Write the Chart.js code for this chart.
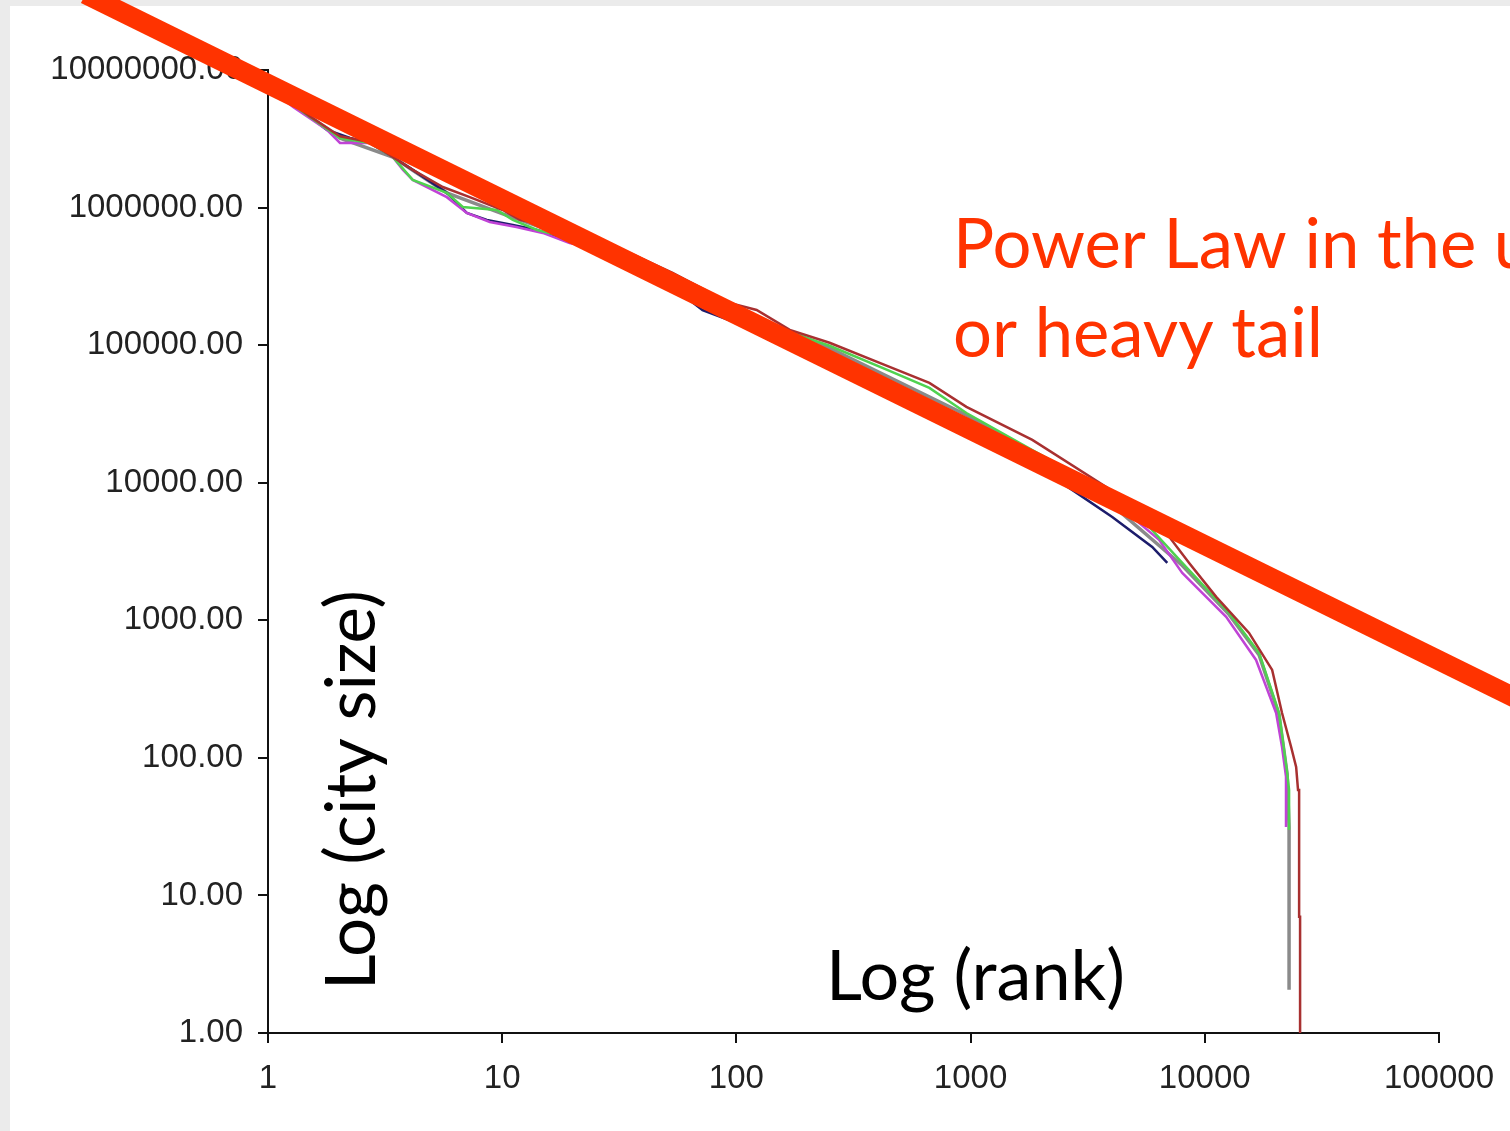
<!DOCTYPE html>
<html lang="en">
<head>
  <meta charset="UTF-8" />
  <title>City size vs rank (log-log)</title>
  <script src="https://cdn.jsdelivr.net/npm/chart.js"></script>
  <style>
    body {
      margin: 0;
      background: #ebebeb;
    }
    #chart {
      display: block;
    }
  </style>
</head>
<body>
  <canvas id="chart" width="1510" height="1131"></canvas>

  <script>
    // tick values
    const xTicks = [1, 10, 100, 1000, 10000, 100000];
    const yTicks = [1, 10, 100, 1000, 10000, 100000, 1000000, 10000000];

    // fitted power law line (two ends)
    const powerRank = [0.166, 282000];
    const powerSize = [35600000, 214];

    // series: rank -> city size
    const brownRank = [1, 1.51, 2.03, 2.72, 3.41, 4.15, 5.58, 7.27, 10.06, 11.9, 14.9, 19.4, 26.1, 35, 53.4, 93.5, 122, 169, 250, 451, 667, 960, 1835, 3796, 6843, 8577, 11190, 15460, 19400, 21380, 23380, 24560, 25020, 25290, 25290, 25530, 25530];
    const brownSize = [7.8e6, 4.6e6, 3.3e6, 3.0e6, 2.33e6, 1.88e6, 1.41e6, 1.19e6, 9.6e5, 8.13e5, 7.5e5, 6.3e5, 5.3e5, 4.68e5, 3.35e5, 2.03e5, 1.8e5, 1.29e5, 1.04e5, 6.95e4, 5.31e4, 3.56e4, 2.05e4, 9.3e3, 4.32e3, 2.61e3, 1.48e3, 809, 436, 212, 120, 86, 58.5, 58.5, 7.0, 7.0, 1];

    const greenRank = [1, 1.51, 2.03, 2.72, 3.41, 4.15, 5.8, 6.79, 9.49, 11.1, 14.1, 19.4, 26.1, 38.6, 53.4, 93.5, 169, 250, 451, 667, 960, 1835, 3119, 5790, 8015, 12710, 17060, 20760, 22480, 22910, 22910];
    const greenSize = [7.6e6, 4.55e6, 3.2e6, 2.95e6, 2.33e6, 1.59e6, 1.28e6, 1.01e6, 9.6e5, 8.13e5, 6.87e5, 6.0e5, 5.1e5, 4.0e5, 3.2e5, 1.95e5, 1.24e5, 9.9e4, 6.5e4, 4.89e4, 3.21e4, 1.73e4, 1.05e4, 4.77e3, 2.61e3, 1.13e3, 579, 212, 78, 58.5, 30];

    const magentaRank = [1, 1.28, 1.79, 2.03, 2.72, 3.41, 3.77, 4.15, 5.8, 7.06, 8.85, 11.5, 14.9, 19.4, 26.1, 38.6, 63.1, 100, 139, 250, 451, 758, 1327, 2716, 4900, 6383, 8015, 12340, 16560, 20170, 21380, 22230, 22230];
    const magentaSize = [7.5e6, 5.38e6, 3.66e6, 2.95e6, 2.95e6, 2.33e6, 1.88e6, 1.59e6, 1.19e6, 9.15e5, 7.86e5, 7.23e5, 6.54e5, 5.53e5, 5.0e5, 3.95e5, 2.13e5, 1.45e5, 1.12e5, 7.06e4, 4.5e4, 3.56e4, 2.15e4, 1.0e4, 5.64e3, 3.84e3, 2.21e3, 1.06e3, 515, 212, 120, 73, 31.5];

    const navyRank = [1, 1.51, 1.79, 2.24, 2.72, 3.41, 4.15, 5.8, 7.06, 8.6, 11.1, 14.1, 19.4, 26.1, 38.6, 63.1, 71.7, 100, 139, 250, 451, 758, 1327, 2716, 4027, 5966, 6918];
    const navySize = [7.6e6, 4.55e6, 3.66e6, 3.21e6, 2.95e6, 2.33e6, 1.88e6, 1.28e6, 9.15e5, 8.13e5, 7.48e5, 6.87e5, 5.8e5, 5.0e5, 3.95e5, 2.13e5, 1.8e5, 1.45e5, 1.09e5, 7.2e4, 4.5e4, 3.3e4, 2.0e4, 8.87e3, 5.64e3, 3.41e3, 2.61e3];

    const grayRank = [1, 2.03, 3.41, 5.8, 10.06, 26.1, 93.5, 250, 960, 3119, 8015, 12710, 17060, 20760, 22480, 22910, 22910];
    const graySize = [7.6e6, 3.2e6, 2.33e6, 1.28e6, 9.0e5, 5.1e5, 1.9e5, 9.5e4, 3.1e4, 1.0e4, 2.5e3, 1.1e3, 560, 205, 76, 31.5, 2.06];

    const toPoints = (xs, ys) => xs.map((x, i) => ({ x, y: ys[i] }));

    const thin = (data, color, width) => ({
      data,
      borderColor: color,
      borderWidth: width,
      pointRadius: 0,
      fill: false,
      tension: 0
    });

    // gray panel edge + white plot page
    const pagePlugin = {
      id: 'page',
      beforeDraw(chart) {
        const { ctx, width, height } = chart;
        ctx.save();
        ctx.fillStyle = '#ebebeb';
        ctx.fillRect(0, 0, width, height);
        ctx.fillStyle = '#ffffff';
        ctx.fillRect(10, 6, width - 10, height - 6);
        ctx.restore();
      }
    };

    // fit a font size so a text spans a wanted width
    const fitSize = (ctx, text, family, target) => {
      ctx.font = `100px ${family}`;
      return 100 * target / ctx.measureText(text).width;
    };

    const textPlugin = {
      id: 'texts',
      afterDraw(chart) {
        const { ctx } = chart;
        const fam = 'Lato, "Open Sans", sans-serif';
        ctx.save();
        ctx.textAlign = 'left';
        ctx.textBaseline = 'alphabetic';

        // red note
        let s = fitSize(ctx, 'or heavy tail', fam, 370);
        ctx.font = `${s}px ${fam}`;
        ctx.fillStyle = '#ff3300';
        ctx.fillText('Power Law in the upper tail', 953, 268);
        ctx.fillText('or heavy tail', 953, 357);

        // axis titles
        ctx.fillStyle = '#000000';
        s = fitSize(ctx, 'Log (rank)', fam, 299);
        ctx.font = `${s}px ${fam}`;
        ctx.fillText('Log (rank)', 826, 1000);

        s = fitSize(ctx, 'Log (city size)', fam, 400);
        ctx.font = `${s}px ${fam}`;
        ctx.translate(375, 990);
        ctx.rotate(-Math.PI / 2);
        ctx.fillText('Log (city size)', 0, 0);
        ctx.restore();
      }
    };

    const tickFont = { family: '"Liberation Sans", Arial, sans-serif', size: 33 };

    new Chart(document.getElementById('chart'), {
      type: 'line',
      data: {
        datasets: [
          {
            data: toPoints(powerRank, powerSize),
            borderColor: '#ff3300',
            borderWidth: 20,
            borderCapStyle: 'butt',
            pointRadius: 0,
            fill: false,
            clip: false
          },
          thin(toPoints(brownRank, brownSize), '#a83030', 2.5),
          thin(toPoints(greenRank, greenSize), '#4fd24f', 2.5),
          thin(toPoints(magentaRank, magentaSize), '#c043d6', 2.5),
          thin(toPoints(navyRank, navySize), '#1c1c6b', 2.5),
          thin(toPoints(grayRank, graySize), '#8a8a8a', 3.5)
        ]
      },
      options: {
        responsive: false,
        animation: false,
        layout: { padding: { top: 70, right: 70, left: 0, bottom: 0 } },
        plugins: {
          legend: { display: false },
          tooltip: { enabled: false }
        },
        scales: {
          x: {
            type: 'logarithmic',
            position: 'bottom',
            min: 1,
            max: 100000,
            afterBuildTicks: (scale) => { scale.ticks = xTicks.map(v => ({ value: v })); },
            afterFit: (scale) => { scale.height = 98; },
            ticks: {
              callback: (v) => String(v),
              font: tickFont,
              color: '#222',
              padding: 16,
              maxRotation: 0,
              autoSkip: false
            },
            grid: { drawOnChartArea: false, drawTicks: true, tickLength: 10, color: '#111', lineWidth: 2 },
            border: { display: true, color: '#111', width: 2 }
          },
          y: {
            type: 'logarithmic',
            position: 'left',
            min: 1,
            max: 10000000,
            afterBuildTicks: (scale) => { scale.ticks = yTicks.map(v => ({ value: v })); },
            afterFit: (scale) => { scale.width = 268; },
            ticks: {
              callback: (v) => Number(v).toFixed(2),
              font: tickFont,
              color: '#222',
              padding: 15,
              autoSkip: false
            },
            grid: { drawOnChartArea: false, drawTicks: true, tickLength: 10, color: '#111', lineWidth: 2 },
            border: { display: true, color: '#111', width: 2 }
          }
        }
      },
      plugins: [pagePlugin, textPlugin]
    });
  </script>
</body>
</html>
